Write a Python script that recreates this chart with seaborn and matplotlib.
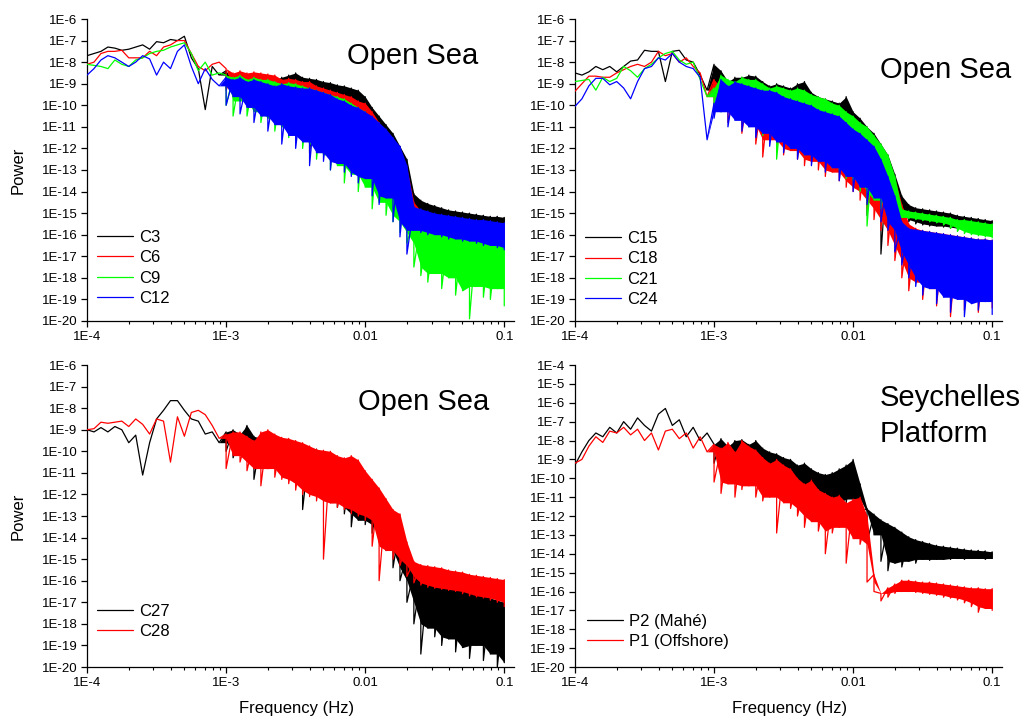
import numpy as np
import matplotlib
matplotlib.use("Agg")
import matplotlib.pyplot as plt
import seaborn as sns
from matplotlib.ticker import FixedLocator, FixedFormatter, NullLocator, LogLocator, NullFormatter

# ---------------- data (log10 values) ----------------
# shared frequency grid, log10(Hz)
LOG_FREQ = [-4.00, -3.95, -3.90, -3.85, -3.80, -3.75, -3.70, -3.65, -3.60, -3.55,
            -3.50, -3.45, -3.40, -3.35, -3.30, -3.25, -3.20, -3.15, -3.10, -3.05,
            -3.00, -2.95, -2.90, -2.85, -2.80, -2.75, -2.70, -2.65, -2.60, -2.55,
            -2.50, -2.45, -2.40, -2.35, -2.30, -2.25, -2.20, -2.15, -2.10, -2.05,
            -2.00, -1.95, -1.90, -1.85, -1.80, -1.75, -1.70, -1.65, -1.60, -1.55,
            -1.50, -1.45, -1.40, -1.35, -1.30, -1.25, -1.20, -1.15, -1.10, -1.05,
            -1.00]

# each series: upper trace (61 values, log10 power) and lower envelope from 1E-3 on (41 values)
# --- Open Sea, panel 1
c3_top = [-7.7, -7.6, -7.5, -7.3, -7.35, -7.45, -7.4, -7.3, -7.2, -7.4,
          -7.05, -7.1, -6.95, -7.0, -6.8, -7.8, -8.3, -10.2, -8.2, -8.6,
          -8.4, -8.9, -8.5, -8.8, -8.6, -8.7, -8.65, -8.8, -8.7, -8.6,
          -8.5, -8.7, -8.75, -8.8, -8.9, -8.95, -9.05, -9.1, -9.2, -9.3,
          -9.6, -10.1, -10.5, -10.9, -11.3, -11.9, -12.5, -14.1, -14.4, -14.55,
          -14.65, -14.75, -14.85, -14.9, -14.95, -15.0, -15.05, -15.1, -15.15, -15.15,
          -15.2]
c3_low = [-9.2, -9.6, -9.4, -9.8, -9.5, -10.0, -9.8, -10.6, -10.2, -10.3,
          -10.5, -11.0, -12.2, -11.0, -11.3, -11.5, -11.7, -12.0, -12.2, -12.4,
          -12.6, -13.0, -13.3, -13.7, -14.0, -14.3, -14.6, -15.0, -15.2, -15.3,
          -15.35, -15.4, -15.45, -15.5, -15.5, -15.55, -15.55, -15.6, -15.6, -15.6,
          -15.65]
c6_top = [-8.1, -8.0, -7.6, -7.5, -7.5, -7.45, -7.8, -7.8, -7.8, -7.5,
          -7.7, -7.3, -7.2, -7.0, -7.0, -7.6, -8.2, -8.4, -8.1, -8.0,
          -8.3, -8.5, -8.4, -8.5, -8.45, -8.5, -8.55, -8.6, -8.8, -8.75,
          -8.8, -8.9, -8.9, -9.1, -9.2, -9.3, -9.4, -9.5, -9.6, -9.8,
          -9.9, -10.3, -10.8, -11.2, -11.6, -12.2, -12.9, -14.5, -14.9, -15.0,
          -15.1, -15.2, -15.25, -15.3, -15.35, -15.35, -15.4, -15.45, -15.45, -15.5,
          -15.5]
c6_low = [-9.3, -9.5, -9.6, -9.8, -10.0, -10.3, -10.5, -10.6, -10.9, -11.0,
          -11.2, -11.3, -11.5, -11.6, -11.8, -12.0, -12.2, -12.4, -12.6, -12.8,
          -13.0, -13.3, -13.6, -14.0, -14.3, -14.7, -15.1, -15.5, -15.8, -16.0,
          -16.1, -16.2, -16.3, -16.3, -16.4, -16.4, -16.5, -16.5, -16.6, -16.6,
          -16.6]
c9_top = [-8.1, -8.15, -8.2, -8.3, -7.9, -8.1, -8.2, -7.9, -7.8, -7.6,
          -7.5, -7.45, -7.3, -7.2, -7.1, -7.6, -8.4, -8.0, -8.6, -8.5,
          -8.6, -8.7, -8.6, -8.8, -8.7, -8.8, -8.8, -8.9, -9.0, -8.95,
          -9.0, -9.1, -9.2, -9.3, -9.4, -9.5, -9.6, -9.7, -9.9, -10.1,
          -10.3, -10.6, -11.0, -11.4, -11.9, -12.4, -13.1, -15.2, -15.4, -15.5,
          -15.6, -15.7, -15.75, -15.8, -15.9, -15.95, -16.0, -16.05, -16.1, -16.15,
          -16.2]
c9_low = [-10.0, -10.5, -9.8, -10.5, -10.3, -10.8, -10.6, -11.2, -11.0, -11.5,
          -11.3, -12.0, -11.8, -12.5, -12.3, -13.0, -12.8, -13.6, -13.2, -14.0,
          -13.8, -14.8, -14.5, -15.1, -15.4, -15.9, -16.4, -17.5, -17.9, -18.2,
          -17.8, -18.5, -18.0, -18.8, -18.6, -19.9, -18.4, -18.9, -19.0, -18.5,
          -19.3]
c12_top = [-8.6, -8.3, -7.9, -7.7, -7.8, -8.0, -8.2, -8.0, -7.7, -7.85,
           -8.6, -8.0, -8.3, -7.5, -7.2, -8.2, -9.0, -8.3, -8.8, -9.1,
           -8.7, -8.8, -8.7, -8.9, -8.8, -8.9, -9.0, -9.1, -9.0, -9.1,
           -9.15, -9.2, -9.2, -9.3, -9.4, -9.5, -9.7, -9.8, -10.0, -10.1,
           -10.3, -10.5, -10.8, -11.1, -11.5, -11.9, -12.8, -14.7, -14.8, -14.9,
           -15.0, -15.05, -15.1, -15.15, -15.2, -15.25, -15.3, -15.3, -15.35, -15.4,
           -15.45]
c12_low = [-10.0, -9.6, -10.4, -10.1, -10.8, -10.5, -11.2, -10.9, -11.8, -11.4,
           -12.0, -11.7, -12.8, -12.2, -12.6, -13.0, -12.7, -13.1, -13.3, -13.6,
           -13.4, -14.2, -14.6, -14.3, -15.4, -16.1, -16.9, -15.8, -15.9, -16.0,
           -16.0, -16.1, -16.2, -16.2, -16.3, -16.3, -16.4, -16.5, -16.5, -16.6,
           -16.7]

# --- Open Sea, panel 2
c15_top = [-8.5, -8.6, -8.45, -8.2, -8.35, -8.2, -8.45, -8.2, -7.95, -7.9,
           -7.45, -7.5, -7.5, -8.9, -7.5, -7.45, -7.9, -8.0, -8.6, -9.3,
           -8.1, -8.4, -8.9, -8.7, -8.7, -8.6, -8.65, -8.9, -9.1, -9.0,
           -9.1, -9.2, -9.0, -8.9, -9.4, -9.6, -9.7, -9.8, -9.9, -9.6,
           -10.3, -10.6, -11.0, -11.3, -11.8, -12.3, -13.2, -14.2, -14.6, -14.75,
           -14.8, -14.85, -14.9, -14.95, -15.0, -15.1, -15.15, -15.2, -15.25, -15.3,
           -15.35]
c15_low = [-9.5, -9.3, -9.8, -9.6, -10.4, -10.0, -10.6, -10.4, -11.0, -10.8,
           -11.3, -11.1, -11.6, -11.4, -12.0, -11.8, -12.3, -12.1, -12.6, -12.8,
           -13.2, -13.5, -15.1, -13.9, -16.9, -14.6, -15.0, -15.3, -15.4, -15.5,
           -15.55, -15.6, -15.6, -15.65, -15.7, -15.7, -15.75, -15.75, -15.8, -15.8,
           -15.8]
c18_top = [-9.35, -9.0, -8.65, -8.65, -8.7, -8.7, -8.5, -8.35, -8.2, -8.1,
           -8.2, -8.0, -7.5, -7.7, -7.6, -8.0, -7.8, -8.2, -8.5, -9.6,
           -8.8, -9.2, -8.9, -9.3, -9.1, -9.0, -9.3, -9.4, -9.3, -9.5,
           -9.4, -9.6, -9.5, -9.7, -9.8, -9.9, -10.0, -10.1, -10.2, -10.4,
           -10.6, -10.9, -11.2, -11.6, -12.0, -12.6, -13.4, -14.6, -15.5, -15.7,
           -15.8, -15.85, -15.9, -15.95, -16.0, -16.05, -16.1, -16.15, -16.2, -16.2,
           -16.25]
c18_low = [-10.3, -10.0, -10.8, -10.5, -11.3, -10.9, -11.8, -12.4, -11.6, -12.0,
           -12.3, -12.1, -12.5, -12.8, -12.6, -13.0, -13.3, -13.1, -13.5, -13.8,
           -14.0, -14.4, -14.8, -15.3, -15.8, -16.5, -17.2, -18.0, -18.6, -18.2,
           -19.0, -18.5, -19.3, -18.7, -19.8, -18.8, -19.5, -18.9, -19.6, -19.0,
           -19.4]
c21_top = [-8.9, -8.85, -8.8, -9.3, -8.7, -8.9, -8.75, -8.2, -8.4, -8.7,
           -8.3, -8.1, -7.8, -7.6, -7.5, -7.9, -8.1, -8.0, -8.8, -9.6,
           -9.2, -8.6, -8.8, -8.9, -8.7, -8.8, -8.8, -9.0, -9.2, -9.1,
           -9.2, -9.3, -9.2, -9.3, -9.5, -9.6, -9.7, -9.9, -10.0, -10.3,
           -10.5, -10.8, -11.0, -11.4, -11.8, -12.3, -13.3, -14.8, -14.9, -14.95,
           -15.0, -15.05, -15.1, -15.15, -15.2, -15.3, -15.3, -15.35, -15.4, -15.45,
           -15.5]
c21_low = [-10.0, -10.3, -9.9, -10.6, -10.4, -11.0, -10.8, -11.4, -11.2, -12.5,
           -11.6, -12.0, -11.9, -12.3, -12.2, -12.6, -12.5, -12.9, -13.0, -13.4,
           -13.5, -14.0, -15.6, -14.4, -14.8, -15.2, -15.5, -15.2, -15.25, -15.3,
           -15.35, -15.4, -15.45, -15.55, -15.7, -15.85, -15.95, -16.0, -16.05, -16.1,
           -16.15]
c24_top = [-10.05, -9.7, -9.1, -8.75, -8.75, -9.05, -8.9, -9.2, -9.7, -8.9,
           -8.3, -8.2, -7.8, -7.9, -7.6, -8.0, -8.2, -8.3, -8.7, -11.6,
           -9.9, -8.8, -9.1, -8.9, -9.0, -9.1, -9.2, -9.3, -9.3, -9.4,
           -9.6, -9.7, -9.8, -9.9, -10.0, -10.2, -10.3, -10.4, -10.5, -10.8,
           -11.1, -11.3, -11.6, -11.9, -12.5, -13.3, -14.2, -15.4, -15.7, -15.75,
           -15.8, -15.85, -15.9, -15.95, -16.0, -16.05, -16.1, -16.15, -16.2, -16.2,
           -16.25]
c24_low = [-10.6, -10.3, -11.0, -10.7, -11.2, -11.0, -11.5, -11.3, -11.9, -11.7,
           -12.2, -12.0, -12.5, -12.3, -12.8, -12.6, -13.1, -12.9, -13.5, -13.3,
           -14.0, -13.8, -14.6, -14.3, -15.4, -15.8, -16.8, -17.4, -18.0, -18.4,
           -18.8, -18.5, -19.2, -18.9, -19.6, -19.0, -19.8, -19.2, -19.5, -19.1,
           -19.7]

# --- Open Sea, panel 3
c27_top = [-9.0, -9.1, -8.9, -9.1, -8.85, -9.0, -9.6, -9.25, -11.1, -9.6,
           -8.5, -8.1, -7.65, -7.65, -8.1, -8.5, -8.6, -9.2, -9.1, -9.6,
           -9.1, -9.0, -9.2, -8.8, -9.3, -9.4, -9.2, -9.3, -9.4, -9.5,
           -9.6, -9.7, -9.8, -9.9, -10.1, -10.2, -10.4, -10.5, -10.6, -10.8,
           -11.0, -11.5, -12.0, -12.5, -12.9, -13.4, -14.8, -15.6, -15.8, -15.9,
           -16.0, -16.1, -16.2, -16.3, -16.4, -16.5, -16.6, -16.7, -16.8, -16.9,
           -17.0]
c27_low = [-10.0, -10.3, -9.8, -10.4, -11.3, -10.2, -10.8, -10.6, -11.0, -11.3,
           -11.5, -12.7, -11.6, -12.0, -12.2, -12.1, -12.6, -12.9, -13.5, -13.2,
           -13.4, -13.8, -14.2, -14.6, -15.4, -16.0, -17.0, -18.0, -19.4, -18.2,
           -18.6, -19.0, -18.7, -19.3, -19.1, -19.6, -19.0, -19.7, -19.4, -20.0,
           -19.8]
c28_top = [-9.0, -8.95, -8.65, -8.7, -8.65, -8.6, -8.85, -8.5, -8.75, -9.2,
           -8.5, -8.6, -10.5, -8.4, -9.3, -8.2, -8.1, -8.3, -8.8, -9.4,
           -9.2, -9.1, -9.1, -9.3, -9.5, -9.1, -9.0, -9.2, -9.35, -9.4,
           -9.5, -9.6, -9.75, -9.9, -9.95, -10.0, -10.2, -10.3, -10.2, -10.4,
           -10.9, -11.3, -11.7, -12.2, -12.7, -12.9, -14.2, -15.1, -15.25, -15.3,
           -15.35, -15.4, -15.5, -15.55, -15.6, -15.7, -15.75, -15.8, -15.85, -15.9,
           -15.95]
c28_low = [-10.8, -10.2, -10.5, -10.9, -10.8, -11.6, -10.8, -11.2, -11.3, -11.5,
           -11.8, -12.0, -12.1, -12.3, -15.0, -12.4, -12.6, -12.7, -12.9, -13.0,
           -13.2, -14.4, -16.0, -14.6, -15.0, -15.3, -15.8, -16.1, -16.2, -16.3,
           -16.35, -16.4, -16.45, -16.5, -16.6, -16.7, -16.75, -16.8, -16.9, -17.0,
           -17.2]

# --- Seychelles Platform
p2_top = [-9.3, -8.6, -8.0, -7.6, -7.8, -7.3, -7.6, -7.0, -7.4, -6.8,
          -7.2, -7.5, -6.6, -6.3, -7.2, -6.9, -7.8, -7.3, -8.0, -7.6,
          -8.2, -7.9, -8.3, -8.0, -7.95, -8.2, -8.0, -8.4, -8.6, -8.7,
          -8.9, -9.0, -9.3, -9.2, -9.5, -9.7, -9.8, -9.7, -9.5, -9.3,
          -9.0, -10.3, -11.6, -11.9, -12.2, -12.4, -12.6, -12.85, -13.1, -13.25,
          -13.35, -13.45, -13.55, -13.6, -13.65, -13.7, -13.75, -13.8, -13.82, -13.85,
          -13.9]
p2_low = [-9.2, -9.5, -9.0, -9.4, -9.3, -9.8, -9.6, -10.5, -10.2, -10.9,
          -10.6, -10.8, -11.1, -11.0, -11.3, -11.5, -11.4, -11.6, -11.5, -11.3,
          -11.1, -11.8, -13.4, -13.0, -14.4, -14.9, -14.5, -14.7, -14.4, -14.5,
          -14.3, -14.35, -14.3, -14.3, -14.3, -14.25, -14.3, -14.25, -14.25, -14.3,
          -14.25]
p1_top = [-9.2, -9.0, -8.3, -7.8, -8.1, -7.5, -7.6, -7.3, -7.7, -7.4,
          -8.0, -7.6, -8.5, -7.5, -7.4, -7.9, -7.6, -8.4, -7.8, -8.6,
          -8.2, -8.4, -8.1, -8.6, -8.0, -8.3, -8.5, -8.9, -9.2, -9.0,
          -9.3, -9.5, -10.0, -10.3, -10.1, -10.6, -10.8, -11.0, -10.9, -11.3,
          -11.1, -11.0, -12.0, -15.1, -16.1, -15.8, -15.6, -15.4, -15.4, -15.45,
          -15.5, -15.5, -15.55, -15.6, -15.65, -15.7, -15.75, -15.8, -15.8, -15.85,
          -15.85]
p1_low = [-10.2, -10.8, -10.3, -11.0, -10.6, -10.4, -11.0, -11.2, -11.0, -12.9,
          -11.3, -11.6, -12.0, -12.6, -12.3, -12.8, -14.0, -12.9, -12.6, -14.5,
          -13.2, -13.5, -15.5, -16.0, -16.5, -16.3, -16.1, -16.0, -16.0, -16.05,
          -16.1, -16.15, -16.2, -16.3, -16.35, -16.45, -16.6, -16.8, -17.1, -16.9,
          -17.0]

panel_titles = [["Open Sea"], ["Open Sea"], ["Open Sea"], ["Seychelles", "Platform"]]
panel_series = [
    [("C3", c3_top, c3_low, "#000000"), ("C6", c6_top, c6_low, "#ff0000"),
     ("C9", c9_top, c9_low, "#00ff00"), ("C12", c12_top, c12_low, "#0000ff")],
    [("C15", c15_top, c15_low, "#000000"), ("C18", c18_top, c18_low, "#ff0000"),
     ("C21", c21_top, c21_low, "#00ff00"), ("C24", c24_top, c24_low, "#0000ff")],
    [("C27", c27_top, c27_low, "#000000"), ("C28", c28_top, c28_low, "#ff0000")],
    [("P2 (Mahé)", p2_top, p2_low, "#000000"), ("P1 (Offshore)", p1_top, p1_low, "#ff0000")],
]
panel_ymax_exp = [6, 6, 6, 4]
x_tick_labels = ["1E-4", "1E-3", "0.01", "0.1"]

# ---------------- drawing ----------------
sns.set_style("ticks")
plt.rcParams["font.family"] = ["Liberation Sans", "DejaVu Sans"]
plt.rcParams["text.color"] = "black"
plt.rcParams["axes.labelcolor"] = "black"
plt.rcParams["axes.edgecolor"] = "black"
plt.rcParams["xtick.color"] = "black"
plt.rcParams["ytick.color"] = "black"

fig = plt.figure(figsize=(10.24, 7.2), dpi=100)
W, H = 0.4167, 0.4194
rects = [[0.0850, 0.5542, W, H], [0.5615, 0.5542, W, H],
         [0.0850, 0.0736, W, H], [0.5615, 0.0736, W, H]]
legend_y = [0.1755, 0.172, 0.151, 0.1185]
legend_x = [0.0234, 0.0234, 0.0234, 0.029]
title_pos = [[(0.3389, 0.9111)], [(0.8594, 0.8917)], [(0.3496, 0.4306)],
             [(0.8594, 0.4361), (0.8594, 0.3861)]]

freq = 10 ** np.array(LOG_FREQ)

for p in range(4):
    ax = fig.add_axes(rects[p])
    ax.set_xscale("log")
    ax.set_yscale("log")
    for k, (name, top, low, col) in enumerate(panel_series[p]):
        top_a = np.array(top, dtype=float)
        low_a = np.concatenate([top_a[:20], np.array(low, dtype=float)])
        # body of the noise band: isolated deep spikes are left to the line only
        body = np.maximum(low_a, np.maximum(np.r_[low_a[:1], low_a[:-1]], np.r_[low_a[1:], low_a[-1:]]))
        body = np.minimum(body, top_a)
        z = 2 + k
        ax.fill_between(freq, 10 ** body, 10 ** top_a, color=col, lw=0, zorder=z)
        xs = np.repeat(freq, 2)
        ys = 10 ** np.column_stack([top_a, low_a]).ravel()
        sns.lineplot(x=xs, y=ys, sort=False, estimator=None, color=col, lw=0.9,
                     ax=ax, label=name, zorder=z + 0.5)
    ax.set_xlim(1e-4, 0.117)
    ymax = panel_ymax_exp[p]
    ax.set_ylim(1e-20, 10.0 ** (-ymax))

    ax.xaxis.set_major_locator(FixedLocator([1e-4, 1e-3, 1e-2, 1e-1]))
    ax.xaxis.set_major_formatter(FixedFormatter(x_tick_labels))
    ax.xaxis.set_minor_locator(LogLocator(base=10, subs=np.arange(2, 10)))
    ax.xaxis.set_minor_formatter(NullFormatter())
    exps = list(range(ymax, 21))
    ax.yaxis.set_major_locator(FixedLocator([10.0 ** (-e) for e in exps]))
    ax.yaxis.set_major_formatter(FixedFormatter([f"1E-{e}" for e in exps]))
    ax.yaxis.set_minor_locator(NullLocator())
    ax.tick_params(axis="both", which="major", direction="out", length=4.5, width=0.9,
                   color="black", labelsize=9.5, labelcolor="black")
    ax.tick_params(axis="y", which="major", pad=2.5)
    ax.tick_params(axis="x", which="major", pad=3)
    ax.tick_params(axis="x", which="minor", direction="out", length=2.5, width=0.8, color="black")
    sns.despine(ax=ax)
    for s in ("left", "bottom"):
        ax.spines[s].set_color("black")
        ax.spines[s].set_linewidth(0.9)

    ax.set_xlabel("")
    ax.set_ylabel("")
    if p in (0, 2):
        ax.set_ylabel("Power", fontsize=12, color="black")
        ax.yaxis.set_label_coords(-0.145, 0.5)
    if p in (2, 3):
        ax.set_xlabel("Frequency (Hz)", fontsize=12, color="black")
        ax.xaxis.set_label_coords(0.49 if p == 2 else 0.502, -0.112)

    h, l = ax.get_legend_handles_labels()
    leg = ax.legend(h, l, loc="center left", bbox_to_anchor=(legend_x[p], legend_y[p]),
                    frameon=False, fontsize=12, handlelength=2.16, handletextpad=0.36,
                    labelspacing=0.32, borderpad=0, borderaxespad=0)
    for t in leg.get_texts():
        t.set_color("black")

    for txt, (tx, ty) in zip(panel_titles[p], title_pos[p]):
        fig.text(tx, ty, txt, fontsize=21, va="baseline", ha="left", color="black")

fig.savefig("out.png", dpi=100)
